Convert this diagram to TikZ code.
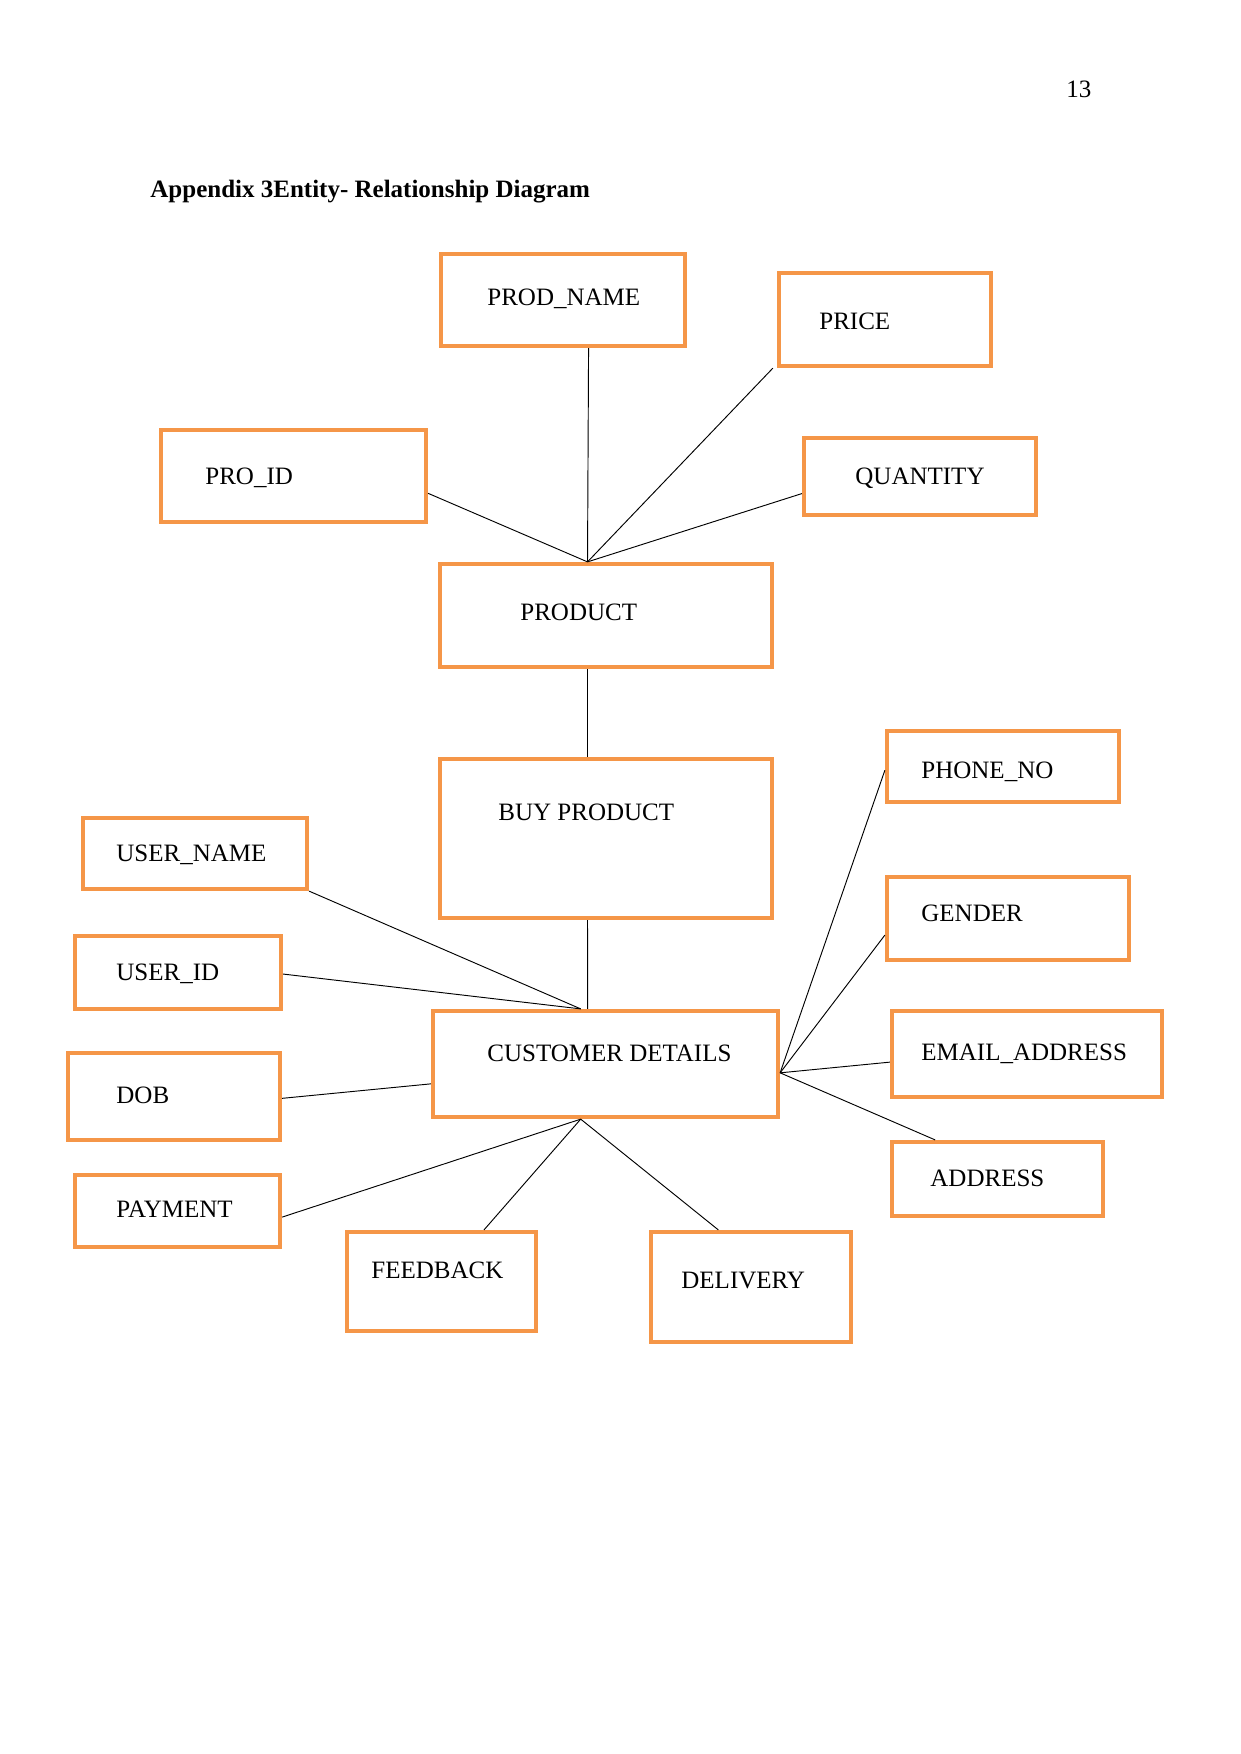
\documentclass[tikz,border=0pt]{standalone}
\usepackage{fontspec}
\setmainfont{Liberation Serif}
\usetikzlibrary{fit,calc}
\definecolor{boxorange}{RGB}{245,150,72}
\begin{document}
\begin{tikzpicture}[x=0.48pt,y=-0.48pt,
  ebox/.style={draw=boxorange, line width=2pt, inner sep=0.5pt},
  lbl/.style={anchor=base west, inner sep=0pt, font=\fontsize{12}{14}\selectfont},
  conn/.style={draw=black, line width=0.45pt}]
\useasboundingbox (0,0) rectangle (1241,1754);

% header
\node[lbl] (pagenum) at (1066,97) {13};
\node[lbl, font=\fontsize{12}{14}\selectfont\bfseries] (title) at (150,197) {Appendix 3Entity- Relationship Diagram};

% boxes
\node[ebox, fit={(442,255) (684,345)}] (prodname) {};
\node[ebox, fit={(780,274) (990,365)}] (price) {};
\node[ebox, fit={(162,431) (425,521)}] (proid) {};
\node[ebox, fit={(805,439) (1035,514)}] (quantity) {};
\node[ebox, fit={(441,565) (771,666)}] (product) {};
\node[ebox, fit={(441,760) (771,917)}] (buy) {};
\node[ebox, fit={(84,819) (306,888)}] (username) {};
\node[ebox, fit={(76,937) (280,1008)}] (userid) {};
\node[ebox, fit={(69,1054) (279,1139)}] (dob) {};
\node[ebox, fit={(76,1176) (279,1246)}] (payment) {};
\node[ebox, fit={(434,1012) (777,1116)}] (cust) {};
\node[ebox, fit={(888,732) (1118,801)}] (phone) {};
\node[ebox, fit={(888,878) (1128,959)}] (gender) {};
\node[ebox, fit={(893,1012) (1161,1096)}] (email) {};
\node[ebox, fit={(893,1143) (1102,1215)}] (address) {};
\node[ebox, fit={(348,1233) (535,1330)}] (feedback) {};
\node[ebox, fit={(652,1233) (850,1341)}] (delivery) {};

% labels
\node[lbl] (tprodname) at (487,305) {PROD\_NAME};
\node[lbl] (tprice) at (819,329) {PRICE};
\node[lbl] (tproid) at (205,484) {PRO\_ID};
\node[lbl] (tquantity) at (855,484) {QUANTITY};
\node[lbl] (tproduct) at (520,620) {PRODUCT};
\node[lbl] (tbuy) at (498,820) {BUY PRODUCT};
\node[lbl] (tusername) at (116,861) {USER\_NAME};
\node[lbl] (tuserid) at (116,980) {USER\_ID};
\node[lbl] (tdob) at (116,1103) {DOB};
\node[lbl] (tpayment) at (116,1217) {PAYMENT};
\node[lbl] (tcust) at (487,1061) {CUSTOMER DETAILS};
\node[lbl] (tphone) at (921,778) {PHONE\_NO};
\node[lbl] (tgender) at (921,921) {GENDER};
\node[lbl] (temail) at (921,1060) {EMAIL\_ADDRESS};
\node[lbl] (taddress) at (930,1186) {ADDRESS};
\node[lbl] (tfeedback) at (371,1278) {FEEDBACK};
\node[lbl] (tdelivery) at (681,1288) {DELIVERY};

% connection points
\coordinate (pTop) at ($(product.north west)!0.445!(product.north east)$);
\coordinate (pBot) at ($(product.south west)!0.445!(product.south east)$);
\coordinate (bTop) at ($(buy.north west)!0.445!(buy.north east)$);
\coordinate (bBot) at ($(buy.south west)!0.445!(buy.south east)$);
\coordinate (cTopA) at ($(cust.north west)!0.449!(cust.north east)$);
\coordinate (cTopB) at ($(cust.north west)!0.429!(cust.north east)$);
\coordinate (cBot) at ($(cust.south west)!0.429!(cust.south east)$);
\coordinate (cLeft) at ($(cust.north west)!0.68!(cust.south west)$);
\coordinate (cRight) at ($(cust.north east)!0.58!(cust.south east)$);

% product attributes
\draw[conn] ($(prodname.south west)!0.603!(prodname.south east)$) -- (pTop);
\draw[conn] ($(price.south west)+(-4,0)$) -- (pTop);
\draw[conn] ($(proid.north east)!0.68!(proid.south east)$) -- (pTop);
\draw[conn] ($(quantity.north west)!0.71!(quantity.south west)$) -- (pTop);

% relationships
\draw[conn] (pBot) -- (bTop);
\draw[conn] (bBot) -- (cTopA);

% customer attributes (left)
\draw[conn] (username.south east) -- (cTopB);
\draw[conn] ($(userid.north east)!0.52!(userid.south east)$) -- (cTopB);
\draw[conn] ($(dob.north east)!0.52!(dob.south east)$) -- (cLeft);
\draw[conn] ($(payment.north east)!0.58!(payment.south east)$) -- (cBot);
\draw[conn] ($(feedback.north west)!0.72!(feedback.north east)$) -- (cBot);
\draw[conn] ($(delivery.north west)!0.34!(delivery.north east)$) -- (cBot);

% customer attributes (right)
\draw[conn] ($(phone.north west)!0.55!(phone.south west)$) -- (cRight);
\draw[conn] ($(gender.north west)!0.69!(gender.south west)$) -- (cRight);
\draw[conn] ($(email.north west)!0.59!(email.south west)$) -- (cRight);
\draw[conn] ($(address.north west)!0.21!(address.north east)$) -- (cRight);
\end{tikzpicture}
\end{document}
